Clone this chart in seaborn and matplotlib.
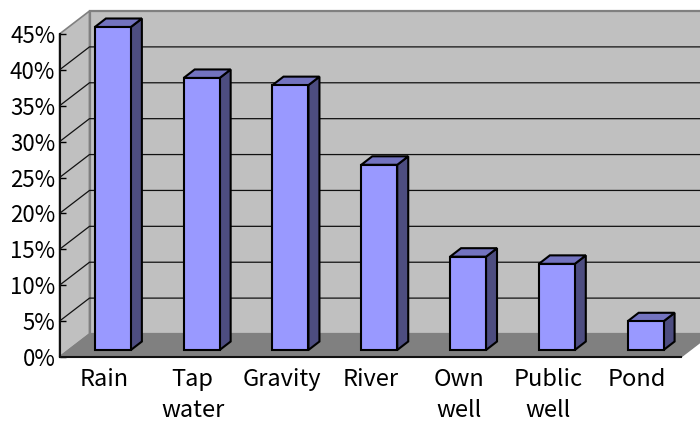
import matplotlib
matplotlib.use("Agg")
import matplotlib.pyplot as plt
from matplotlib.patches import Polygon
import pandas as pd
import seaborn as sns

categories = ["Rain", "Tap\nwater", "Gravity", "River", "Own\nwell", "Public\nwell", "Pond"]
values = [45, 37.9, 36.9, 25.8, 13, 12, 4]
y_ticks = [0, 5, 10, 15, 20, 25, 30, 35, 40, 45]
y_labels = ["0%", "5%", "10%", "15%", "20%", "25%", "30%", "35%", "40%", "45%"]

sns.set_theme(style="white")
plt.rcParams["font.family"] = ["Noto Sans CJK JP", "DejaVu Sans"]

W, H = 700, 421
L, R, T, B = 59.5, 681, 34, 357
fig = plt.figure(figsize=(W / 100, H / 100), dpi=100, facecolor="white")
ax = fig.add_axes([L / W, 1 - B / H, (R - L) / W, (B - T) / H])

df = pd.DataFrame({"source": categories, "share": values})
sns.barplot(data=df, x="source", y="share", color="#9999FF", saturation=1,
            width=0.405, edgecolor="black", linewidth=1.5, ax=ax, zorder=6)
ax.set_xlim(-0.5, 6.5)
ax.set_ylim(0, 45)
ax.patch.set_alpha(0)

px = 7 / (R - L)
py = 45 / (B - T)
def dx(p): return p * px
def dy(p): return p * py

x0, x1 = -0.5, 6.5
wx, wy = dx(30), dy(23)
wall = "#C0C0C0"
gray = "#808080"

ax.add_patch(Polygon([(x0, 0), (x0, 45), (x0 + wx, 45 + wy), (x0 + wx, wy)],
                     closed=True, fc=wall, ec=gray, lw=1.2, clip_on=False, zorder=1))
ax.add_patch(Polygon([(x0 + wx, wy), (x0 + wx, 45 + wy), (x1 + wx, 45 + wy), (x1 + wx, wy)],
                     closed=True, fc=wall, ec=gray, lw=1.6, clip_on=False, zorder=1))
ax.add_patch(Polygon([(x0, 0), (x1, 0), (x1 + wx, wy), (x0 + wx, wy)],
                     closed=True, fc=gray, ec=gray, lw=1, clip_on=False, zorder=2))

for v in y_ticks[1:-1]:
    ax.plot([x0, x0 + wx, x1 + wx], [v, v + wy, v + wy], color="#111111", lw=0.9,
            clip_on=False, zorder=3, solid_joinstyle="miter")

fx, fy = dx(9), dy(7)
sx, sy = dx(11), dy(8.5)
for bar in ax.containers[0]:
    x, w, h = bar.get_x(), bar.get_width(), bar.get_height()
    bar.set_x(x + fx)
    bar.set_y(fy)
    bar.set_clip_on(False)
    xa, xb, yb, yt = x + fx, x + fx + w, fy, fy + h
    ax.add_patch(Polygon([(xb, yb), (xb + sx, yb + sy), (xb + sx, yt + sy), (xb, yt)],
                         closed=True, fc="#4D4D80", ec="black", lw=1.5, clip_on=False, zorder=5))
    ax.add_patch(Polygon([(xa, yt), (xa + sx, yt + sy), (xb + sx, yt + sy), (xb, yt)],
                         closed=True, fc="#7373BF", ec="black", lw=1.5, clip_on=False, zorder=5))

for s in ("top", "right"):
    ax.spines[s].set_visible(False)
for s in ("left", "bottom"):
    ax.spines[s].set_visible(True)
    ax.spines[s].set_color("#111111")
    ax.spines[s].set_linewidth(1.5)
    ax.spines[s].set_zorder(7)

ax.set_xlabel("")
ax.set_ylabel("")
ax.set_yticks(y_ticks)
ax.set_yticklabels(y_labels)
ax.set_xticks([i + 0.5 for i in range(7)], minor=True)
ax.set_xticks(range(7))
ax.set_xticklabels(categories, linespacing=1.45)
ax.tick_params(axis="x", which="major", length=0, labelsize=17, colors="black", pad=8)
ax.tick_params(axis="x", which="minor", length=4, width=1, direction="in", color="#222222", top=False)
ax.tick_params(axis="y", which="major", length=4, width=1, direction="in", labelsize=16,
               colors="black", pad=3, left=True)
ax.set_axisbelow(False)

fig.savefig("out.png", dpi=100)
